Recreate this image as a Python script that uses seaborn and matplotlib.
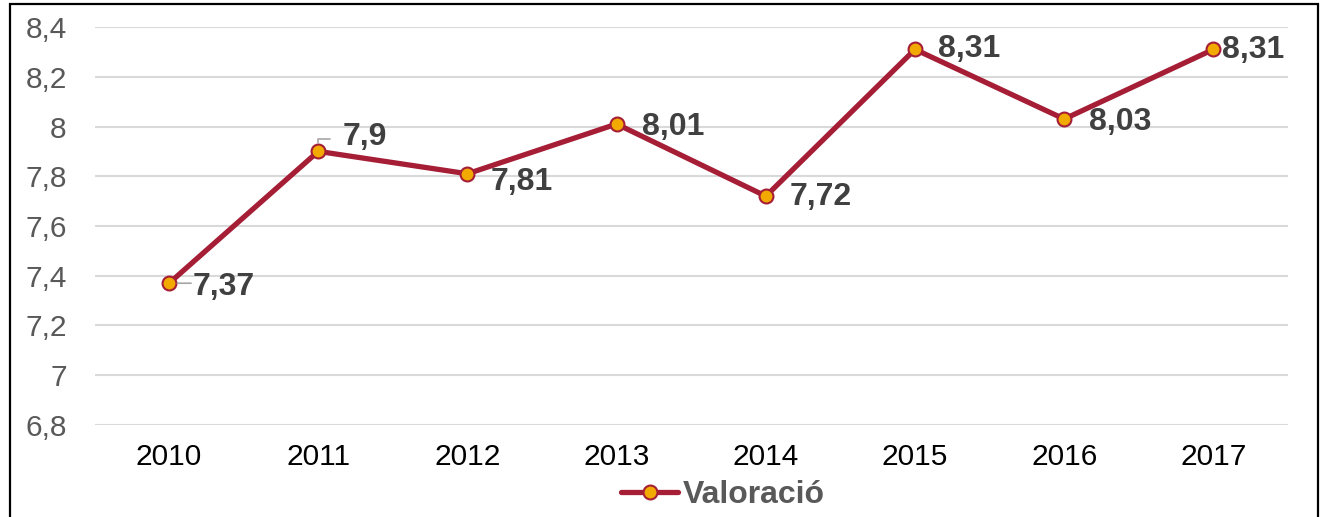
import numpy as np
import pandas as pd
import matplotlib
matplotlib.use('Agg')
import matplotlib.pyplot as plt
import seaborn as sb
from matplotlib.patches import Rectangle

years = ['2010', '2011', '2012', '2013', '2014', '2015', '2016', '2017']
valoracio = [7.37, 7.9, 7.81, 8.01, 7.72, 8.31, 8.03, 8.31]
labels = ['7,37', '7,9', '7,81', '8,01', '7,72', '8,31', '8,03', '8,31']
yticks = [6.8, 7.0, 7.2, 7.4, 7.6, 7.8, 8.0, 8.2, 8.4]
yticklabels = ['6,8', '7', '7,2', '7,4', '7,6', '7,8', '8', '8,2', '8,4']

# label offsets in pixels (dx, dy)
offsets = [(24, -4), (24, 14), (23, -8), (25, -3), (24, -1), (23, 0), (25, -3), (9, -1)]

sb.set_style('white')
plt.rcParams['font.family'] = ['Liberation Sans', 'DejaVu Sans']

line_col = '#A51E36'
mark_col = '#F2A900'

df = pd.DataFrame({'year': years, 'Valoració': valoracio})

fig = plt.figure(figsize=(13.22, 5.17), dpi=100)
ax = fig.add_axes([94.5/1322, 1-425/517, (1288-94.5)/1322, (425-27)/517])

sb.lineplot(data=df, x='year', y='Valoració', ax=ax, color=line_col,
            linewidth=3.8, marker='o', markersize=10,
            markerfacecolor=mark_col, markeredgecolor=line_col,
            markeredgewidth=1.5, label='Valoració', legend=False)

for i, (v, lab, off) in enumerate(zip(valoracio, labels, offsets)):
    ax.annotate(lab, (i, v), xytext=off, textcoords='offset pixels',
                ha='left', va='center', fontsize=23, fontweight='bold',
                color='#404040')

# small leader lines
ax.annotate('', (0, 7.37), xytext=(22, 0), textcoords='offset pixels',
            arrowprops=dict(arrowstyle='-', color='#A6A6A6', lw=1.2,
                            shrinkA=0, shrinkB=6))
ax.annotate('', (1, 7.9), xytext=(12, 12), textcoords='offset pixels',
            arrowprops=dict(arrowstyle='-', color='#A6A6A6', lw=1.2,
                            connectionstyle='angle,angleA=0,angleB=90,rad=0',
                            shrinkA=0, shrinkB=6))

ax.set_xlim(-0.5, 7.5)
ax.set_ylim(6.8, 8.4)
ax.set_yticks(yticks)
ax.set_yticklabels(yticklabels)
ax.set_xlabel('')
ax.set_ylabel('')
ax.grid(axis='y', color='#D9D9D9', linewidth=1.5)
ax.grid(axis='x', visible=False)
ax.set_axisbelow(True)
for s in ax.spines.values():
    s.set_visible(False)
ax.tick_params(axis='y', length=0, pad=20, labelsize=21.5, labelcolor='#595959')
ax.tick_params(axis='x', length=0, pad=13, labelsize=21.5, labelcolor='black')

handles, _ = ax.get_legend_handles_labels()
leg = fig.legend(handles, ['Valoració'], loc='center', bbox_to_anchor=(0.547, 0.043),
                 frameon=False, fontsize=23, handlelength=1.8, handletextpad=0.15)
for t in leg.get_texts():
    t.set_fontweight('bold')
    t.set_color('#595959')

fig.patches.append(Rectangle((9.5/1322, -0.05), (1318-9.5)/1322, 1.05-4/517,
                             transform=fig.transFigure, fill=False,
                             edgecolor='black', linewidth=1.6))

fig.savefig('out.png', dpi=100)
